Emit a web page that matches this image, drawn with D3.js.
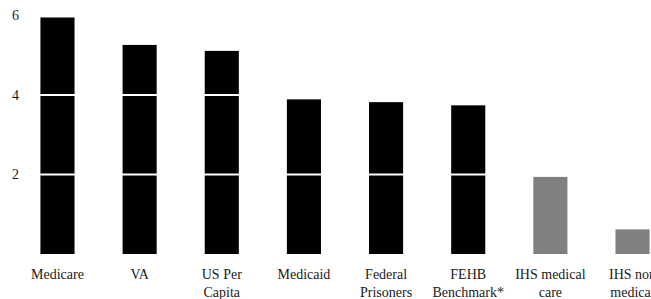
<!DOCTYPE html>
<html>
<head>
<meta charset="utf-8">
<script src="https://cdn.jsdelivr.net/npm/d3@7"></script>
<style>
  html, body { margin: 0; padding: 0; background: #fff; overflow: hidden; }
  svg { display: block; }
</style>
</head>
<body>
<svg id="chart"></svg>
<script>
// Data
const categories = ["Medicare", "VA", "US Per\nCapita", "Medicaid", "Federal\nPrisoners",
                    "FEHB\nBenchmark*", "IHS medical\ncare", "IHS non\nmedical"];
const values = [5.95, 5.26, 5.11, 3.89, 3.82, 3.74, 1.94, 0.62];
const isIHS = [false, false, false, false, false, false, true, true];
const yTicks = [2, 4, 6];

// Chart dimensions
const width = 651;
const height = 299;
const fontFamily = '"Liberation Serif", "Times New Roman", serif';
const fontSize = "14px";

const svg = d3.select("#chart")
    .attr("width", width)
    .attr("height", height);

// Scales
const xScale = d3.scaleBand()
    .domain(categories)
    .range([16.4, 673.6])
    .paddingInner(0.585)
    .paddingOuter(0.2925);

const yScale = d3.scaleLinear()
    .domain([0, 6])
    .range([254, 15.5]);

// Bars
svg.selectAll(".bar")
    .data(values)
    .enter()
    .append("rect")
    .attr("class", "bar")
    .attr("x", (d, i) => xScale(categories[i]))
    .attr("y", d => yScale(d))
    .attr("width", xScale.bandwidth())
    .attr("height", d => yScale(0) - yScale(d))
    .attr("fill", (d, i) => isIHS[i] ? "#808080" : "#000");

// White gridlines over the bars
svg.selectAll(".grid")
    .data(yTicks)
    .enter()
    .append("line")
    .attr("class", "grid")
    .attr("x1", 30)
    .attr("x2", width)
    .attr("y1", d => yScale(d))
    .attr("y2", d => yScale(d))
    .attr("stroke", "#fff")
    .attr("stroke-width", 2);

// Y-Axis
const yAxis = d3.axisLeft(yScale)
    .tickValues(yTicks)
    .tickFormat(d3.format("d"))
    .tickSize(0)
    .tickPadding(0);
const yG = svg.append("g")
    .attr("transform", "translate(15.5, 0)")
    .call(yAxis);
yG.select(".domain").remove();
yG.attr("font-family", null).attr("font-size", null);
yG.selectAll("text")
    .attr("text-anchor", "middle")
    .style("font-family", fontFamily)
    .style("font-size", fontSize)
    .style("fill", "#1a1a1a");

// X-Axis
const xAxis = d3.axisBottom(xScale)
    .tickSize(0)
    .tickPadding(0);
const xG = svg.append("g")
    .attr("transform", "translate(0, 279)")
    .call(xAxis);
xG.select(".domain").remove();
xG.attr("font-family", null).attr("font-size", null);
xG.selectAll("text")
    .attr("y", 0)
    .attr("dy", null)
    .style("font-family", fontFamily)
    .style("font-size", fontSize)
    .style("fill", "#1a1a1a")
    .text(null)
    .each(function(d) {
        const t = d3.select(this);
        d.split("\n").forEach((line, i) => {
            t.append("tspan")
                .attr("x", 0)
                .attr("y", i * 18)
                .text(line);
        });
    });
</script>
</body>
</html>
